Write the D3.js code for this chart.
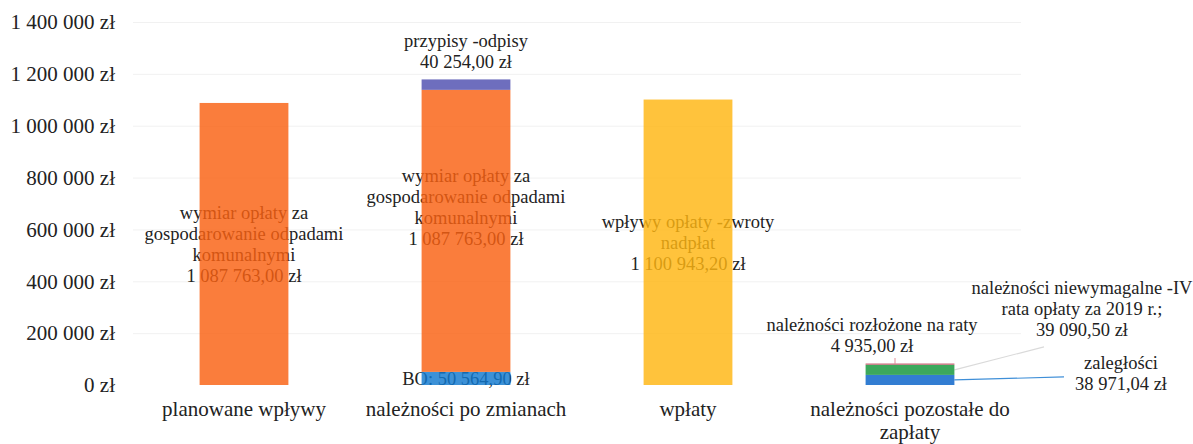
<!DOCTYPE html>
<html>
<head>
<meta charset="utf-8">
<script src="https://cdn.jsdelivr.net/npm/d3@7"></script>
<style>
  body { margin: 0; background: #fff; }
</style>
</head>
<body>
<script>
const width = 1193;
const height = 444;
const serif = "'Liberation Serif', 'Times New Roman', 'DejaVu Serif', serif";

// categories on the x axis
const categories = [
  "planowane wpływy",
  "należności po zmianach",
  "wpłaty",
  "należności pozostałe do zapłaty",
];

// stacked series, one value per category
const seriesKeys = ["bo", "wymiar", "przypisy", "wplywy", "zaleglosci", "niewymagalne", "raty"];
const boValues = [0, 50564.9, 0, 0];
const wymiarValues = [1087763.0, 1087763.0, 0, 0];
const przypisyValues = [0, 40254.0, 0, 0];
const wplywyValues = [0, 0, 1100943.2, 0];
const zaleglosciValues = [0, 0, 0, 38971.04];
const niewymagalneValues = [0, 0, 0, 39090.5];
const ratyValues = [0, 0, 0, 4935.0];

const seriesNames = {
  bo: ["BO"],
  wymiar: ["wymiar opłaty za", "gospodarowanie odpadami", "komunalnymi"],
  przypisy: ["przypisy -odpisy"],
  wplywy: ["wpływy opłaty -zwroty", "nadpłat"],
  zaleglosci: ["zaległości"],
  niewymagalne: ["należności niewymagalne -IV", "rata opłaty za 2019 r.;"],
  raty: ["należności rozłożone na raty"],
};

const tickValues = [0, 200000, 400000, 600000, 800000, 1000000, 1200000, 1400000];

// bars are drawn slightly translucent over the labels (like the scan)
const barOpacity = 0.82;
const colors = {
  bo: "#1179ce",
  wymiar: "#f96011",
  przypisy: "#4e4eb0",
  wplywy: "#ffb611",
  zaleglosci: "#0560c8",
  niewymagalne: "#119538",
  raty: "#c04a5e",
};
const leaderColors = {
  zaleglosci: "#3f8fd8",
  niewymagalne: "#dadada",
  raty: "#e8a0a8",
};

let margin = { top: 22, right: 172, bottom: 59, left: 133 };

let svg = d3
  .select("body")
  .append("svg")
  .attr("width", width)
  .attr("height", height)
  .style("font-family", serif);

let table = categories.map((c, i) => ({
  category: c,
  bo: boValues[i],
  wymiar: wymiarValues[i],
  przypisy: przypisyValues[i],
  wplywy: wplywyValues[i],
  zaleglosci: zaleglosciValues[i],
  niewymagalne: niewymagalneValues[i],
  raty: ratyValues[i],
}));

let stacked = d3.stack().keys(seriesKeys)(table);

let xScale = d3
  .scaleBand()
  .domain(categories)
  .range([margin.left, width - margin.right])
  .paddingInner(0.6)
  .paddingOuter(0.3);

let yScale = d3
  .scaleLinear()
  .domain([0, 1400000])
  .range([height - margin.bottom, margin.top]);

let pl = d3.formatLocale({ decimal: ",", thousands: "\u00a0", grouping: [3], currency: ["", " zł"] });
let tickFormat = (v) => pl.format(",")(v) + " zł";
let valueFormat = (v) => pl.format(",.2f")(v) + " zł";

// faint gridlines
svg
  .append("g")
  .selectAll("line")
  .data(tickValues.slice(1))
  .join("line")
  .attr("x1", margin.left)
  .attr("x2", width - margin.right)
  .attr("y1", (d) => yScale(d) + 0.5)
  .attr("y2", (d) => yScale(d) + 0.5)
  .attr("stroke", "#f1f1f1");

// y axis
let leftAxis = d3.axisLeft(yScale).tickValues(tickValues).tickFormat(tickFormat).tickSize(0).tickPadding(18);
let leftContainer = svg
  .append("g")
  .attr("transform", `translate(${margin.left}, 0)`)
  .call(leftAxis)
  .attr("font-family", serif);
leftContainer.select(".domain").remove();
leftContainer.selectAll("text").style("font-size", "21px").style("font-family", serif).attr("fill", "#222");

// x axis labels, wrapped to the band step
let bottomAxis = d3.axisBottom(xScale).tickSize(0).tickPadding(0);
let bottomContainer = svg
  .append("g")
  .attr("transform", `translate(0, ${height - margin.bottom})`)
  .call(bottomAxis)
  .attr("font-family", serif);
bottomContainer.select(".domain").remove();
bottomContainer
  .selectAll("text")
  .style("font-size", "21px")
  .style("font-family", serif)
  .attr("fill", "#222")
  .attr("y", 31)
  .attr("dy", 0)
  .each(function () {
    let t = d3.select(this);
    let words = t.text().split(" ");
    t.text(null);
    let line = [];
    let n = 0;
    let tspan = t.append("tspan").attr("x", 0).attr("y", 31);
    words.forEach((w) => {
      line.push(w);
      tspan.text(line.join(" "));
      if (tspan.node().getComputedTextLength() > xScale.step() * 0.95 && line.length > 1) {
        line.pop();
        tspan.text(line.join(" "));
        line = [w];
        n += 1;
        tspan = t.append("tspan").attr("x", 0).attr("y", 31 + n * 23).text(w);
      }
    });
  });

// data labels (drawn under the bars)
const fontSize = 18.5;
const lineHeight = 21;
let labelLayer = svg.append("g");
let leaderLayer = svg.append("g");

function drawLines(lines, cx, cy) {
  let t = labelLayer
    .append("text")
    .attr("text-anchor", "middle")
    .attr("fill", "#222")
    .style("font-family", serif)
    .style("font-size", fontSize + "px");
  lines.forEach((l, i) => {
    t.append("tspan")
      .attr("x", cx)
      .attr("y", cy + (i - (lines.length - 1) / 2) * lineHeight)
      .attr("dy", "0.35em")
      .text(l);
  });
}

// where each label sits relative to its segment (callouts: label offset + leader end offset)
const labelPlacement = {
  bo: { mode: "inline" },
  wymiar: { mode: "center", dy: [0, -24, 0, 0] },
  przypisy: { mode: "above" },
  wplywy: { mode: "center" },
  zaleglosci: { mode: "callout", dx: 211, dy: -7, anchor: "right", ldx: -57, ldy: 4 },
  niewymagalne: { mode: "callout", dx: 172, dy: -61, anchor: "right", ldx: -38, ldy: 38 },
  raty: { mode: "callout", dx: -38, dy: -28, anchor: "top", ldx: 0, ldy: 0 },
};

stacked.forEach((s) => {
  let p = labelPlacement[s.key];
  s.forEach((seg, i) => {
    let v = seg[1] - seg[0];
    if (v <= 0) return;
    let cat = categories[i];
    let x0 = xScale(cat);
    let cx = x0 + xScale.bandwidth() / 2;
    let yTop = yScale(seg[1]);
    let yMid = yScale((seg[0] + seg[1]) / 2);
    let name = seriesNames[s.key];
    if (p.mode === "inline") {
      drawLines([name.join(" ") + ": " + valueFormat(v)], cx, yMid);
    } else if (p.mode === "center") {
      let lines = name.concat([valueFormat(v)]);
      drawLines(lines, cx, yMid + (p.dy ? p.dy[i] : 0));
    } else if (p.mode === "above") {
      let lines = name.concat([valueFormat(v)]);
      drawLines(lines, cx, yTop - 18 - ((lines.length - 1) * lineHeight) / 2);
    } else {
      let lines = name.concat([valueFormat(v)]);
      let lx = cx + p.dx;
      let ly = (p.anchor === "top" ? yTop : yMid) + p.dy;
      drawLines(lines, lx, ly);
      let sx, sy, ex, ey;
      if (p.anchor === "top") {
        sx = cx - 15;
        sy = yTop;
        ex = sx;
        ey = ly + ((lines.length - 1) / 2) * lineHeight + 12;
      } else {
        sx = x0 + xScale.bandwidth();
        sy = yMid;
        ex = lx + p.ldx;
        ey = ly + p.ldy;
      }
      leaderLayer
        .append("line")
        .attr("x1", sx)
        .attr("y1", sy)
        .attr("x2", ex)
        .attr("y2", ey)
        .attr("stroke", leaderColors[s.key])
        .attr("stroke-width", 1.2);
    }
  });
});

// bars
svg
  .append("g")
  .selectAll("g")
  .data(stacked)
  .join("g")
  .attr("fill", (d) => colors[d.key])
  .attr("fill-opacity", barOpacity)
  .selectAll("rect")
  .data((d) => d.filter((seg) => seg[1] - seg[0] > 0))
  .join("rect")
  .attr("x", (d) => xScale(d.data.category))
  .attr("y", (d) => yScale(d[1]))
  .attr("width", xScale.bandwidth())
  .attr("height", (d) => yScale(d[0]) - yScale(d[1]));
</script>
</body>
</html>
